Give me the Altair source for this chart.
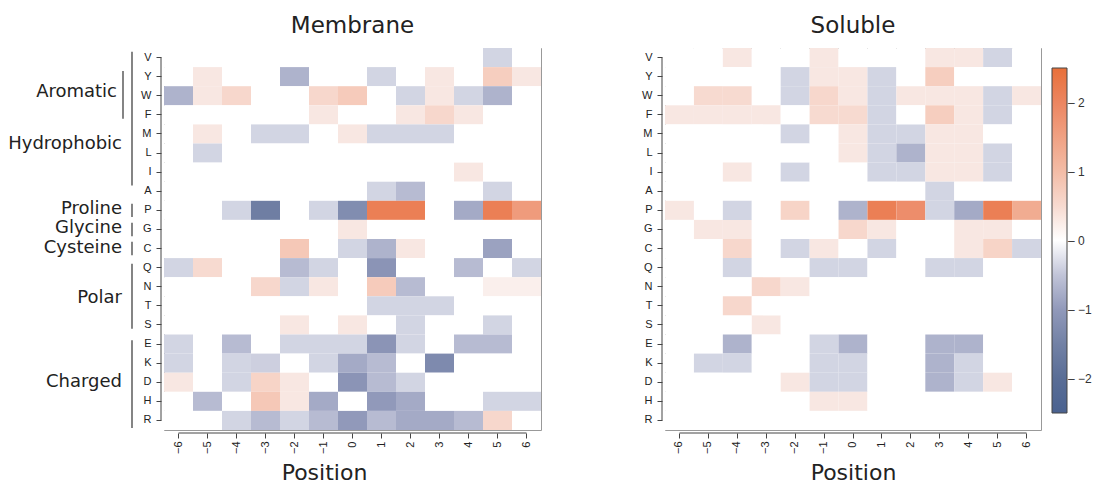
import altair as alt
import pandas as pd

residues = ["V", "Y", "W", "F", "M", "L", "I", "A", "P", "G",
            "C", "Q", "N", "T", "S", "E", "K", "D", "H", "R"]
positions = list(range(-6, 7))

membrane = {
    "V": [0, 0, 0, 0, 0, 0, 0, 0, 0, 0, 0, -0.35, 0],
    "Y": [0, 0.3, 0, 0, -0.7, 0, 0, -0.35, 0, 0.3, 0, 0.7, 0.3],
    "W": [-0.7, 0.3, 0.55, 0, 0, 0.55, 0.75, 0, -0.35, 0.3, -0.35, -0.7, 0],
    "F": [0, 0, 0, 0, 0, 0.3, 0, 0, 0.3, 0.55, 0.3, 0, 0],
    "M": [0, 0.3, 0, -0.35, -0.35, 0, 0.3, -0.35, -0.35, -0.35, 0, 0, 0],
    "L": [0, -0.35, 0, 0, 0, 0, 0, 0, 0, 0, 0, 0, 0],
    "I": [0, 0, 0, 0, 0, 0, 0, 0, 0, 0, 0.3, 0, 0],
    "A": [0, 0, 0, 0, 0, 0, 0, -0.35, -0.6, 0, 0, -0.35, 0],
    "P": [0, 0, -0.35, -1.55, 0, -0.35, -1.25, 2.15, 2.15, 0, -0.8, 2.15, 1.6],
    "G": [0, 0, 0, 0, 0, 0, 0.3, 0, 0, 0, 0, 0, 0],
    "C": [0, 0, 0, 0, 0.8, 0, -0.35, -0.7, 0.3, 0, 0, -0.9, 0],
    "Q": [-0.35, 0.5, 0, 0, -0.6, -0.35, 0, -1.1, 0, 0, -0.6, 0, -0.35],
    "N": [0, 0, 0, 0.55, -0.35, 0.3, 0, 0.75, -0.6, 0, 0, 0.25, 0.25],
    "T": [0, 0, 0, 0, 0, 0, 0, -0.35, -0.35, -0.35, 0, 0, 0],
    "S": [0, 0, 0, 0, 0.3, 0, 0.3, 0, -0.35, 0, 0, -0.35, 0],
    "E": [-0.35, 0, -0.6, 0, -0.35, -0.35, -0.35, -1.1, -0.35, 0, -0.6, -0.6, 0],
    "K": [-0.35, 0, -0.35, -0.4, 0, -0.35, -0.8, -0.6, 0, -1.3, 0, 0, 0],
    "D": [0.3, 0, -0.35, 0.6, 0.3, 0, -1.1, -0.6, -0.35, 0, 0, 0, 0],
    "H": [0, -0.6, 0, 0.8, 0.3, -0.8, 0, -1.0, -0.8, 0, 0, -0.35, -0.35],
    "R": [0, 0, -0.35, -0.6, -0.35, -0.6, -1.0, -0.6, -0.8, -0.8, -0.6, 0.55, 0],
}

soluble = {
    "V": [0, 0, 0.3, 0, 0, 0.3, 0, 0, 0, 0.3, 0.3, -0.35, 0],
    "Y": [0, 0, 0, 0, -0.35, 0.3, 0.3, -0.35, 0, 0.7, 0, 0, 0],
    "W": [0, 0.5, 0.5, 0, -0.35, 0.55, 0.3, -0.35, 0.3, 0.3, 0.3, -0.35, 0.3],
    "F": [0.3, 0.3, 0.3, 0.3, 0, 0.5, 0.5, -0.35, 0, 0.7, 0.3, -0.35, 0],
    "M": [0, 0, 0, 0, -0.35, 0, 0.3, -0.35, -0.35, 0.3, 0.3, 0, 0],
    "L": [0, 0, 0, 0, 0, 0, 0.3, -0.35, -0.7, 0.3, 0.3, -0.35, 0],
    "I": [0, 0, 0.3, 0, -0.35, 0, 0, -0.35, -0.35, 0.3, 0.3, -0.35, 0],
    "A": [0, 0, 0, 0, 0, 0, 0, 0, 0, -0.35, 0, 0, 0],
    "P": [0.3, 0, -0.35, 0, 0.6, 0, -0.7, 2.15, 1.85, -0.35, -0.8, 2.15, 1.3],
    "G": [0, 0.3, 0.3, 0, 0, 0, 0.55, 0.3, 0, 0, 0.3, 0.3, 0],
    "C": [0, 0, 0.55, 0, -0.35, 0.3, 0, -0.35, 0, 0, 0.3, 0.6, -0.35],
    "Q": [0, 0, -0.35, 0, 0, -0.35, -0.35, 0, 0, -0.35, -0.35, 0, 0],
    "N": [0, 0, 0, 0.55, 0.3, 0, 0, 0, 0, 0, 0, 0, 0],
    "T": [0, 0, 0.55, 0, 0, 0, 0, 0, 0, 0, 0, 0, 0],
    "S": [0, 0, 0, 0.3, 0, 0, 0, 0, 0, 0, 0, 0, 0],
    "E": [0, 0, -0.7, 0, 0, -0.35, -0.7, 0, 0, -0.7, -0.7, 0, 0],
    "K": [0, -0.35, -0.35, 0, 0, -0.35, -0.35, 0, 0, -0.7, -0.35, 0, 0],
    "D": [0, 0, 0, 0, 0.3, -0.35, -0.35, 0, 0, -0.7, -0.35, 0.3, 0],
    "H": [0, 0, 0, 0, 0, 0.3, 0.3, 0, 0, 0, 0, 0, 0],
    "R": [0, 0, 0, 0, 0, 0, 0, 0, 0, 0, 0, 0, 0],
}

group_names = ["Aromatic", "Hydrophobic", "Proline", "Glycine", "Cysteine", "Polar", "Charged"]
group_label_row = [2.3, 5.0, 8.45, 9.45, 10.45, 13.1, 17.5]
group_bar_start = [1.2, 0.2, 8.15, 9.15, 10.15, 11.3, 15.3]
group_bar_end = [3.7, 7.2, 8.85, 9.85, 10.85, 14.7, 19.9]

color_domain = [-2.5, -1.8, -1.0, -0.5, -0.3, -0.15, 0.15, 0.3, 0.6, 1.0, 2.0, 2.5]
color_range = ["#4A6290", "#5F7299", "#9199BA", "#C1C4D8", "#D8DAE6", "#FFFFFF",
               "#FFFFFF", "#F8E7E2", "#F7D4C7", "#F3BCA6", "#EC8560", "#E8703A"]


def long_df(table):
    rows = []
    for r in residues:
        for p, v in zip(positions, table[r]):
            rows.append({"residue": r, "pos": p, "value": v})
    return pd.DataFrame(rows)


W, H = 377, 382
MINUS = "\u2212"
row_scale = alt.Scale(domain=[0, 20], reverse=True, nice=False, zero=False)
col_scale = alt.Scale(domain=[0, 13], nice=False, zero=False)
AX = "#444444"


def panel(table, title, title_x, with_groups):
    df = long_df(table)
    heat = alt.Chart(df).mark_rect().encode(
        x=alt.X("pos:O", sort=positions,
                scale=alt.Scale(paddingInner=0, paddingOuter=0),
                axis=alt.Axis(title="Position", labelAngle=270, domain=False,
                              labelExpr="replace(datum.label, '-', '" + MINUS + "')",
                              offset=3, tickSize=5, labelPadding=3,
                              titleX=title_x, titleY=46, titleBaseline="alphabetic")),
        y=alt.Y("residue:O", sort=residues,
                scale=alt.Scale(paddingInner=0, paddingOuter=0),
                axis=alt.Axis(title=None, domain=False, offset=3, tickSize=5,
                              labelPadding=5)),
        color=alt.Color("value:Q",
                        scale=alt.Scale(domain=color_domain, range=color_range,
                                        interpolate="rgb"),
                        legend=alt.Legend(orient="none", legendX=888, legendY=20,
                                          direction="vertical", title=None,
                                          gradientLength=345, gradientThickness=15,
                                          gradientStrokeColor="#444444",
                                          gradientStrokeWidth=1,
                                          values=[2, 1, 0, -1, -2],
                                          labelExpr="'\u2013 ' + datum.label",
                                          labelFont="Liberation Sans",
                                          labelFontSize=12, labelColor="#333333",
                                          labelOffset=1)),
    )
    one = pd.DataFrame({"k": [0]})
    yline = alt.Chart(one).mark_rule(color=AX, strokeWidth=1).encode(
        x=alt.value(-3),
        y=alt.Y(datum=0.5, type="quantitative", scale=row_scale, axis=None),
        y2=alt.datum(19.5),
    )
    xline = alt.Chart(one).mark_rule(color=AX, strokeWidth=1).encode(
        x=alt.X(datum=0.5, type="quantitative", scale=col_scale, axis=None),
        x2=alt.datum(12.5),
        y=alt.value(H + 3),
    )
    layers = [heat, yline, xline]
    if with_groups:
        gdf = pd.DataFrame({"group": group_names, "row": group_label_row,
                            "start": group_bar_start, "end": group_bar_end})
        arom = gdf[gdf.group == "Aromatic"]
        rest = gdf[gdf.group != "Aromatic"]
        layers.append(alt.Chart(rest).mark_text(
            align="right", baseline="middle", font="DejaVu Sans", fontSize=18,
            color="#222222").encode(
            x=alt.value(-42),
            y=alt.Y("row:Q", scale=row_scale, axis=None),
            text="group:N"))
        layers.append(alt.Chart(arom).mark_text(
            align="right", baseline="middle", font="DejaVu Sans", fontSize=18,
            color="#222222").encode(
            x=alt.value(-47),
            y=alt.Y("row:Q", scale=row_scale, axis=None),
            text="group:N"))
        layers.append(alt.Chart(rest).mark_rule(color="#333333", strokeWidth=1.2).encode(
            x=alt.value(-32),
            y=alt.Y("start:Q", scale=row_scale, axis=None),
            y2="end:Q"))
        layers.append(alt.Chart(arom).mark_rule(color="#333333", strokeWidth=1.2).encode(
            x=alt.value(-41),
            y=alt.Y("start:Q", scale=row_scale, axis=None),
            y2="end:Q"))
    return alt.layer(*layers).resolve_scale(x="independent", y="independent").properties(
        width=W, height=H,
        title=alt.TitleParams(title, fontSize=23, font="DejaVu Sans", fontWeight="normal",
                              color="#222222", anchor="middle", baseline="alphabetic",
                              offset=-8))


left = panel(membrane, "Membrane", 160, True)
right = panel(soluble, "Soluble", 188, False).properties(width=376)

chart = alt.hconcat(left, right, spacing=99).properties(
    padding={"left": 7, "top": 14, "right": 0, "bottom": 0}
).configure_view(stroke="#999999", strokeWidth=1).configure_axis(
    labelFont="Liberation Sans", labelFontSize=11, labelColor="#222222",
    tickColor=AX, titleFont="DejaVu Sans", titleFontSize=22,
    titleFontWeight="normal", titleColor="#222222", grid=False,
).configure_concat(spacing=99)

chart.save("out.html", embed_options={"renderer": "svg", "actions": False})
